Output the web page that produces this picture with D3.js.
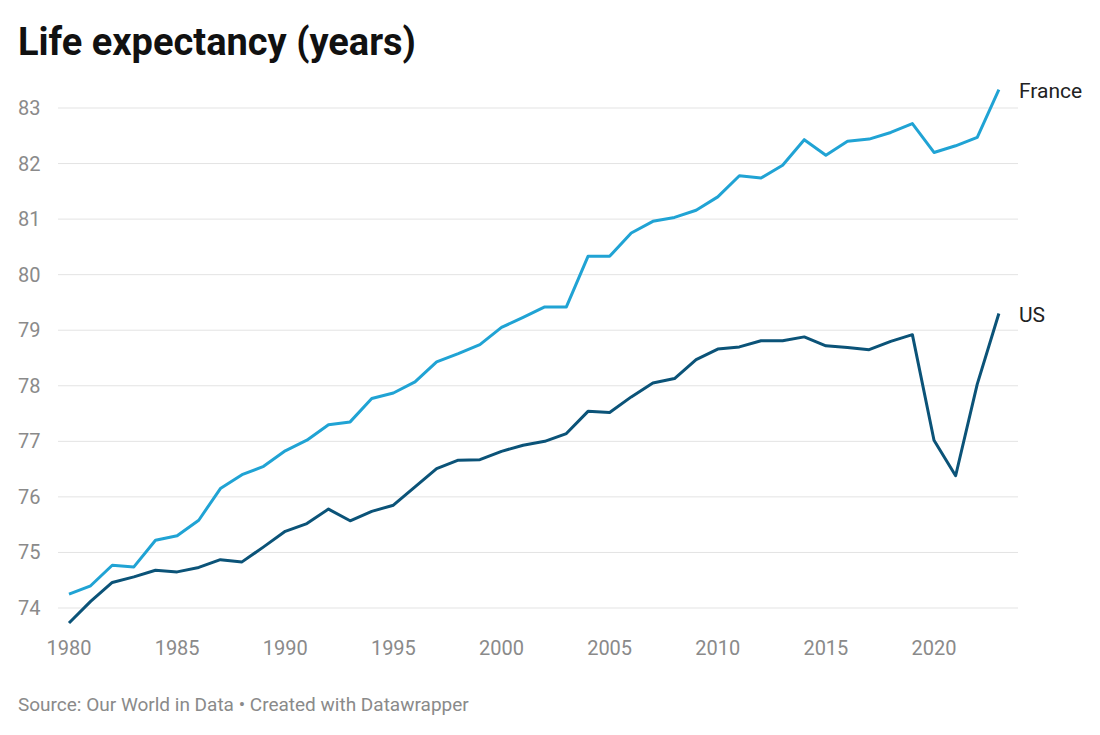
<!DOCTYPE html><html><head><meta charset="utf-8"><script src="https://cdn.jsdelivr.net/npm/d3@7"></script>
<style>body{margin:0;background:#fff;font-family:Roboto,sans-serif}</style></head><body><svg id="c" width="1100" height="735"></svg>
<script>
const years=d3.range(1980,2024);
const france=[74.25,74.4,74.77,74.74,75.22,75.3,75.58,76.15,76.4,76.55,76.83,77.02,77.3,77.35,77.77,77.87,78.07,78.43,78.58,78.74,79.05,79.23,79.42,79.42,80.33,80.33,80.75,80.96,81.03,81.16,81.4,81.78,81.74,81.97,82.43,82.15,82.4,82.44,82.56,82.72,82.2,82.32,82.47,83.33];
const us=[73.73,74.12,74.46,74.56,74.68,74.65,74.73,74.87,74.83,75.1,75.38,75.52,75.78,75.57,75.74,75.85,76.18,76.51,76.66,76.67,76.82,76.93,77.0,77.14,77.54,77.52,77.8,78.05,78.13,78.47,78.66,78.7,78.81,78.81,78.88,78.72,78.69,78.65,78.8,78.92,77.02,76.38,78.03,79.3];
const yTicks=[74,75,76,77,78,79,80,81,82,83];
const xTicks=[1980,1985,1990,1995,2000,2005,2010,2015,2020];
const svg=d3.select("#c");
const x=d3.scaleLinear().domain([1980,2020]).range([69,934]);
const y=d3.scaleLinear().domain([74,83]).range([608,108]);
svg.append("text").attr("x",18).attr("y",55).attr("font-size",38).attr("font-weight",700).attr("fill","#111").text("Life expectancy (years)");
const g=svg.append("g");
yTicks.forEach(t=>{
 g.append("line").attr("x1",18).attr("x2",1018).attr("y1",y(t)).attr("y2",y(t)).attr("stroke","#e3e3e3").attr("stroke-width",1);
 g.append("rect").attr("x",16).attr("y",y(t)-13).attr("width",42).attr("height",26).attr("fill","#fff");
 g.append("text").attr("x",18).attr("y",y(t)+7).attr("font-size",20).attr("fill","#8a8a8a").text(t);
});
xTicks.forEach(t=>g.append("text").attr("x",x(t)).attr("y",655).attr("text-anchor","middle").attr("font-size",20).attr("fill","#8a8a8a").text(t));
const line=d3.line().x((d,i)=>x(years[i])).y(d=>y(d));
svg.append("path").datum(france).attr("d",line).attr("fill","none").attr("stroke","#20a3d4").attr("stroke-width",3).attr("stroke-linejoin","round");
svg.append("path").datum(us).attr("d",line).attr("fill","none").attr("stroke","#0b5378").attr("stroke-width",3).attr("stroke-linejoin","round");
svg.append("text").attr("x",1019).attr("y",y(83.33)+8).attr("font-size",21).attr("fill","#222").text("France");
svg.append("text").attr("x",1019).attr("y",y(79.3)+8).attr("font-size",21).attr("fill","#222").text("US");
svg.append("text").attr("x",18).attr("y",711).attr("font-size",19).attr("fill","#8a8a8a").text("Source: Our World in Data • Created with Datawrapper");
</script></body></html>
